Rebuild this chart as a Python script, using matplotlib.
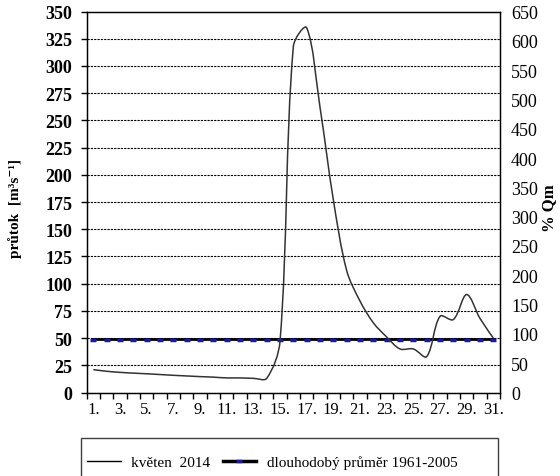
import numpy as np
import matplotlib
matplotlib.use("Agg")
from matplotlib import pyplot as plt
from matplotlib.path import Path
from matplotlib.patches import PathPatch, Rectangle
from matplotlib.lines import Line2D

plt.rcParams['font.family'] = ['Liberation Serif', 'DejaVu Serif']

# daily discharge, May 2014 [m3/s]
days = list(range(1, 32))
flow = [21, 19.5, 18.5, 17.8, 17.2, 16.5, 15.8, 15.2, 14.6, 14.1, 13.4, 13.4,
        13.0, 13.0, 47, 318, 335, 262, 177, 112, 84, 64, 51, 40, 40, 33,
        70, 67, 90, 68, 50]
qm_mean = 49.4          # long-term mean 1961-2005
xlabels = [f"{d}." for d in days[::2]]
left_ticks = list(range(0, 351, 25))
right_ticks = list(range(0, 651, 50))

W, H = 560, 477
fig = plt.figure(figsize=(W / 100, H / 100), dpi=100)
ax = fig.add_axes([86.7 / W, 1 - 393.5 / H, (500 - 86.7) / W, (393.5 - 12.5) / H])
ax.set_xlim(0.5, 31.5)
ax.set_ylim(0, 350)

ax.set_yticks(left_ticks)
ax.set_yticklabels([str(t) for t in left_ticks], fontsize=13, fontweight='bold')
ax.set_xticks([d + 0.5 for d in range(0, 32)])
ax.set_xticklabels([])
ax.set_xticks(days[::2], minor=True)
ax.set_xticklabels(xlabels, minor=True, fontsize=12)
ax.tick_params(axis='x', which='major', direction='out', length=4, width=1)
ax.tick_params(axis='x', which='minor', length=0, pad=6)
ax.tick_params(axis='y', direction='out', length=4.5, width=1, pad=6)
for s in ax.spines.values():
    s.set_linewidth(1)

for v in left_ticks[1:-1]:
    ax.axhline(v, color='black', lw=0.8, ls=(0, (2, 1)), zorder=1)

# mean line with blue dash markers
ax.plot(days, [qm_mean] * len(days), color='black', lw=2, zorder=3)
ax.plot(days, [qm_mean - 0.8] * len(days), ls='none', marker='_', ms=4.5, mew=2.5,
        color='#1a1aa0', zorder=4)

# smoothed line (excel style bezier through the daily values)
fig.canvas.draw()
P = ax.transData.transform(np.column_stack([days, flow]))
verts = [P[0]]
codes = [Path.MOVETO]
n = len(P)
for i in range(n - 1):
    p0, p1 = P[i], P[i + 1]
    a = P[i - 1] if i > 0 else p0
    b = P[i + 2] if i + 2 < n else p1
    L01 = np.hypot(*(p1 - p0))
    La = np.hypot(*(p0 - a))
    Lb = np.hypot(*(b - p1))
    c1 = p0 + (p1 - a) * (L01 / (La + L01)) / 3 if i > 0 else p0
    c2 = p1 - (b - p0) * (L01 / (L01 + Lb)) / 3 if i + 2 < n else p1
    verts += [c1, c2, p1]
    codes += [Path.CURVE4] * 3
verts = ax.transData.inverted().transform(np.array(verts))
ax.add_patch(PathPatch(Path(verts, codes), fill=False, ec='#333333', lw=1.1, zorder=5))

ax2 = ax.twinx()
ax2.set_ylim(0, 650)
ax2.set_yticks(right_ticks)
ax2.set_yticklabels([str(t) for t in right_ticks], fontsize=13)
ax2.tick_params(axis='y', length=0, pad=8)

fig.text(15 / W, 1 - 208 / H, "průtok  [m³s⁻¹]", rotation=90, ha='center', va='center',
         fontsize=11, fontweight='bold')
fig.text(549 / W, 1 - 208 / H, "% Qm", rotation=90, ha='center', va='center',
         fontsize=12, fontweight='bold')

# legend box (cut at the bottom edge like the original)
fig.patches.append(Rectangle((81 / W, -0.05), (498 - 81) / W, (H - 439) / H + 0.05,
                             transform=fig.transFigure, fill=False, ec='#404040', lw=1))
h1 = Line2D([], [], color='black', lw=1)
h2 = Line2D([], [], color='black', lw=2.5, marker='_', ms=4, mew=2.5,
            mec='#1a1aa0', mfc='#1a1aa0')
fig.legend([h1, h2], ["květen  2014", "dlouhodobý průměr 1961-2005"],
           loc='center left', bbox_to_anchor=(87 / W, 1 - 463 / H), ncol=2,
           frameon=False, fontsize=11, handlelength=2.2, handletextpad=0.7,
           columnspacing=0.8, borderpad=0, borderaxespad=0, numpoints=1)

fig.savefig("out.png", dpi=100)
